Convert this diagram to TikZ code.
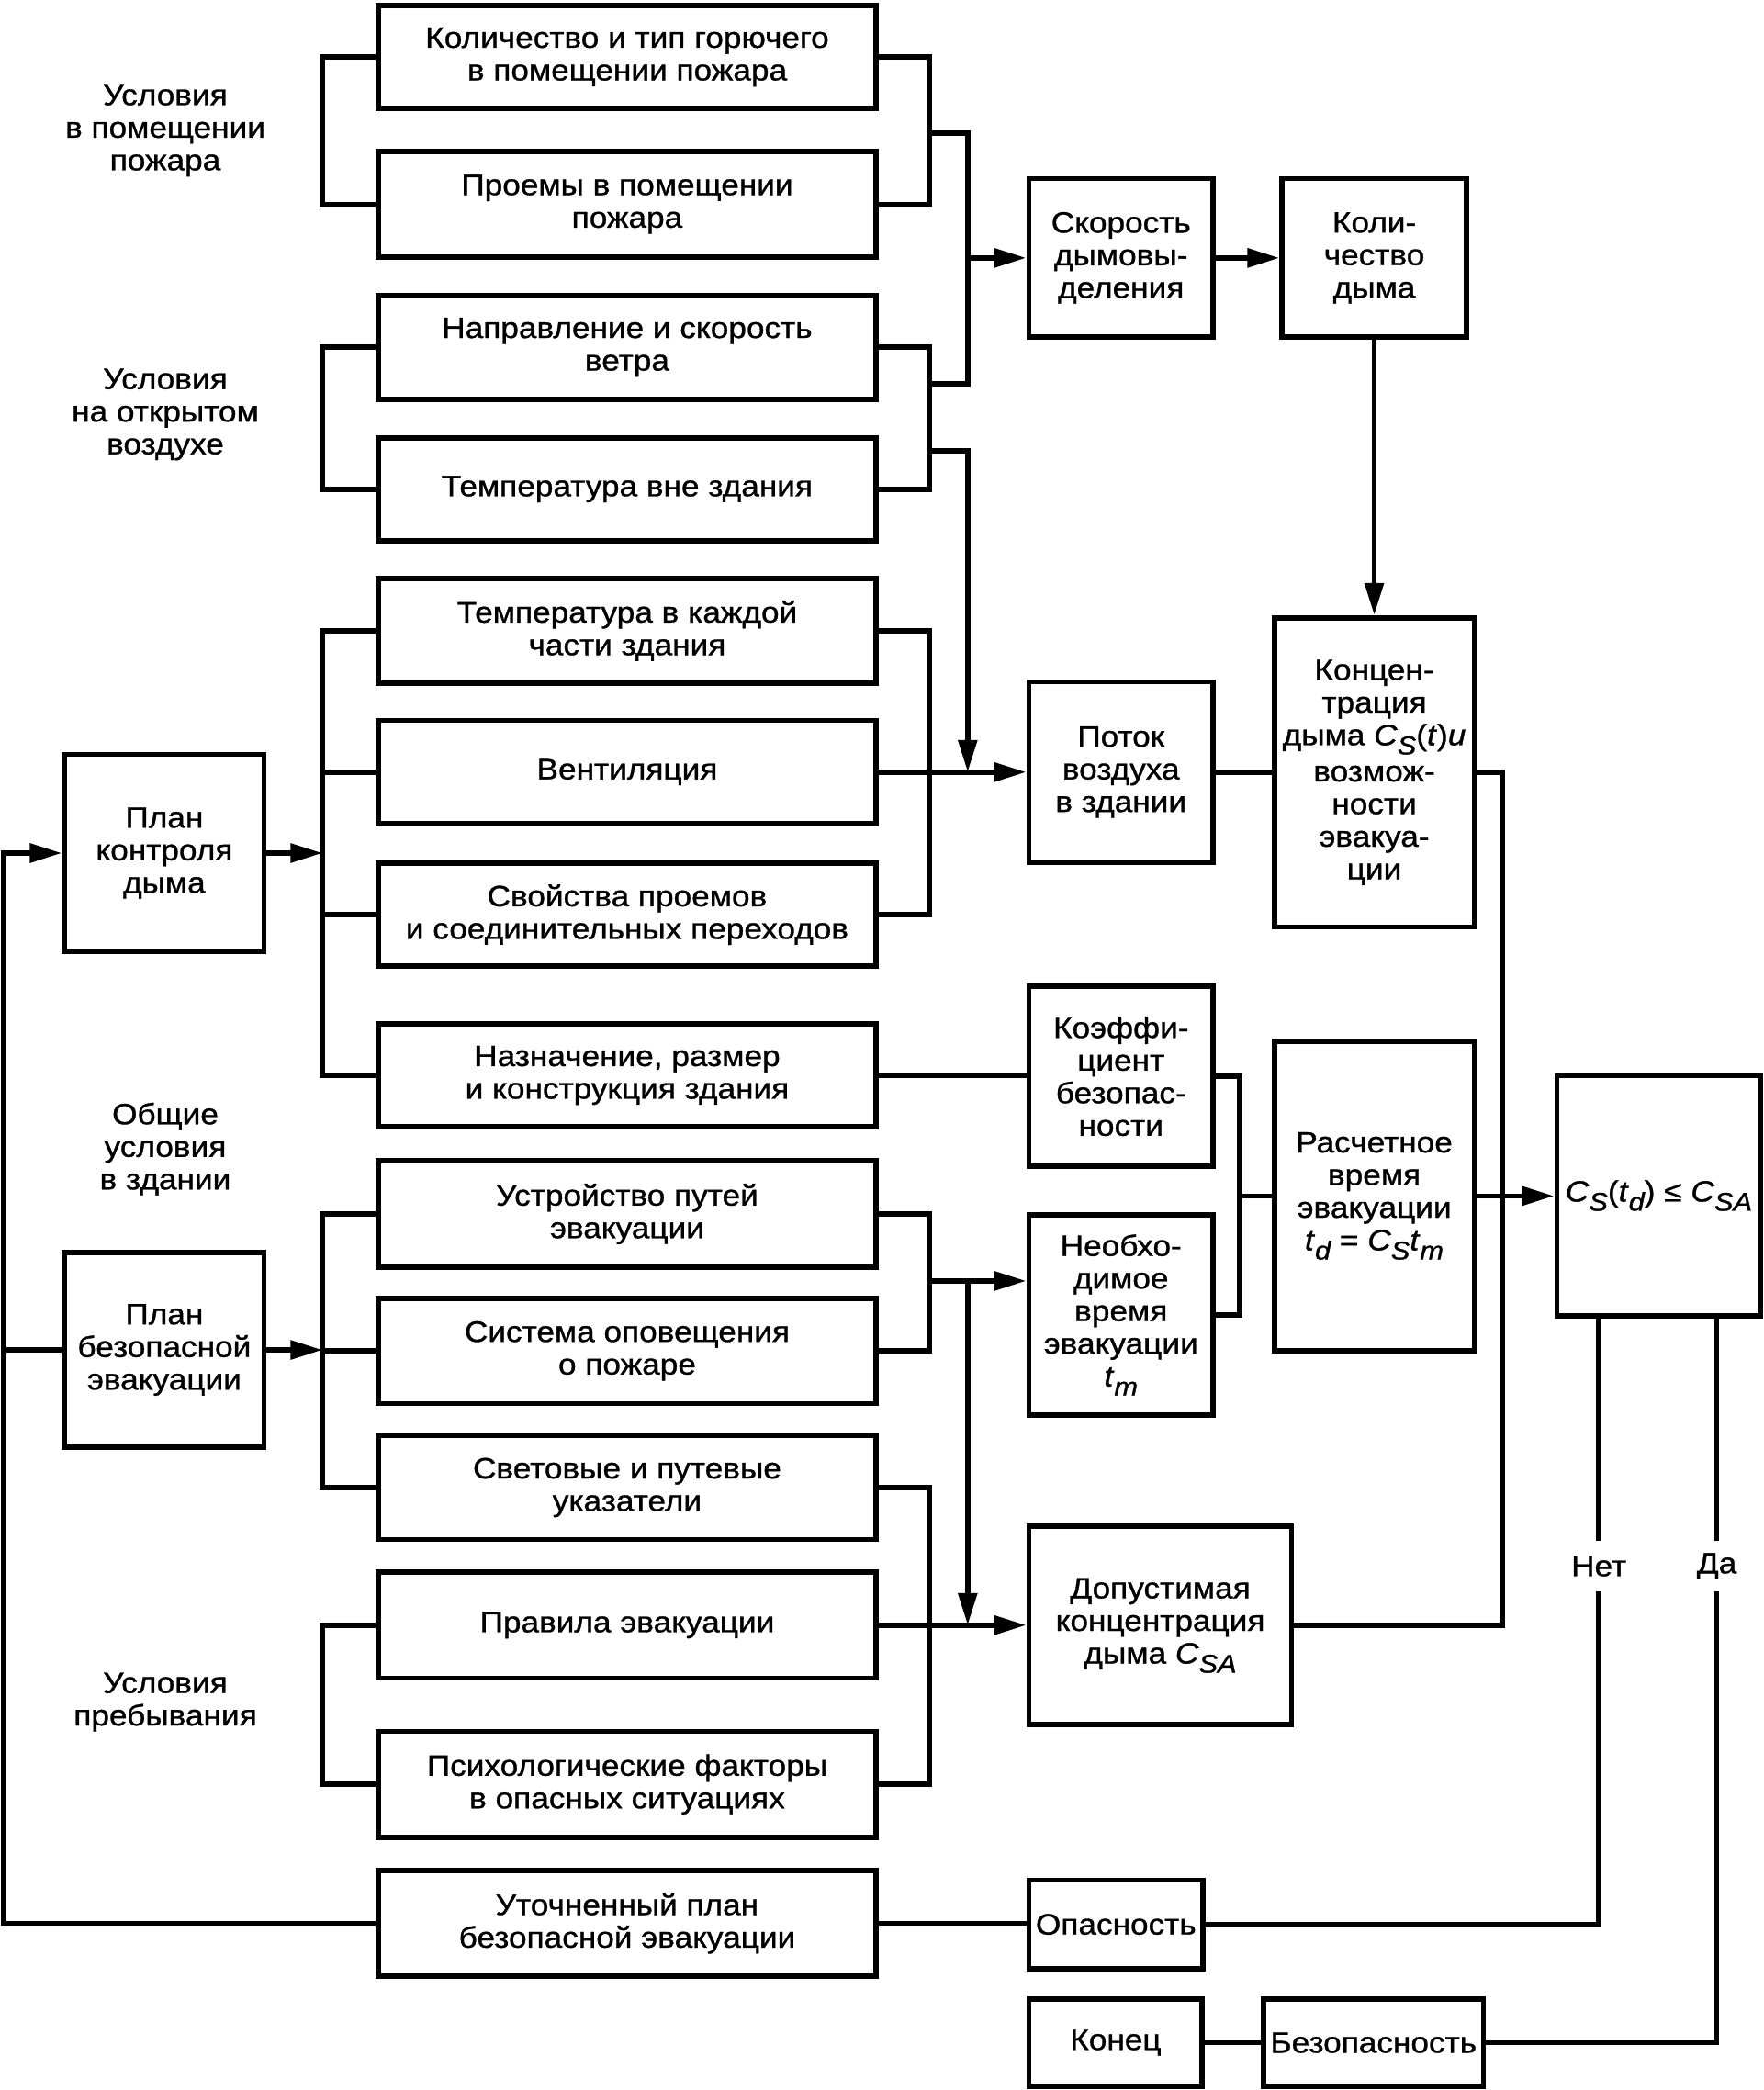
\documentclass[tikz,border=0pt]{standalone}
\usepackage{fontspec}
\setmainfont[FakeStretch=1.1,FakeBold=1]{Liberation Sans}
\usetikzlibrary{arrows.meta}
\newcommand\sbs[1]{\raisebox{-10pt}{\fontsize{28}{28}\selectfont\itshape #1}}
\newcommand\bx[6]{\node[box,minimum width={(#4-#2)*1.45125pt},minimum height={(#5-#3)*1.45125pt}] (#1) at ({(#2+#4)/2},{(#3+#5)/2}) {#6};}
\begin{document}
\begin{tikzpicture}[x=1.45125pt,y=-1.45125pt, line width=5.8pt,
  box/.style={draw, align=center, inner sep=0pt, font=\fontsize{32}{35.5}\selectfont},
  lbl/.style={align=center, inner sep=0pt, font=\fontsize{32}{35.5}\selectfont},
  arr/.style={-{Triangle[length=35pt,width=20pt]}}]
\useasboundingbox (0,0) rectangle (1323,1568);
% middle column
\bx{b1}{284}{4}{657}{81.5}{Количество и тип горючего\\в помещении пожара}
\bx{b2}{284}{113.5}{657}{193}{Проемы в помещении\\пожара}
\bx{b3}{284}{221.5}{657}{299.5}{Направление и скорость\\ветра}
\bx{b4}{284}{328.5}{657}{405.5}{Температура вне здания}
\bx{b5}{284}{434}{657}{512.5}{Температура в каждой\\части здания}
\bx{b6}{284}{540.5}{657}{618}{Вентиляция}
\bx{b7}{284}{647.5}{657}{725}{Свойства проемов\\и соединительных переходов}
\bx{b8}{284}{768}{657}{845.5}{Назначение, размер\\и конструкция здания}
\bx{b9}{284}{871}{657}{950.5}{Устройство путей\\эвакуации}
\bx{b10}{284}{974}{657}{1053}{Система оповещения\\о пожаре}
\bx{b11}{284}{1077}{657}{1155}{Световые и путевые\\указатели}
\bx{b12}{284}{1179.5}{657}{1259}{Правила эвакуации}
\bx{b13}{284}{1299}{657}{1378.5}{Психологические факторы\\в опасных ситуациях}
\bx{b14}{284}{1403.5}{657}{1482.5}{Уточненный план\\безопасной эвакуации}
% left plans
\bx{pk}{48.5}{566}{198}{714}{План\\контроля\\дыма}
\bx{pbe}{48.5}{939.5}{198}{1086}{План\\безопасной\\эвакуации}
% right column
\bx{sk}{772}{134}{910}{253}{Скорость\\дымовы-\\деления}
\bx{kd}{962}{134}{1100}{253}{Коли-\\чество\\дыма}
\bx{pot}{772}{511.5}{910}{647}{Поток\\воздуха\\в здании}
\bx{konc}{956}{463.5}{1106}{695.5}{Концен-\\трация\\дыма \textit{C}\sbs{S}(\textit{t})\textit{u}\\[4pt]возмож-\\ности\\эвакуа-\\ции}
\bx{koef}{772}{740}{910}{875}{Коэффи-\\циент\\безопас-\\ности}
\bx{neo}{772}{911.5}{910}{1061.5}{Необхо-\\димое\\время\\эвакуации\\\textit{t}\sbs{m}}
\bx{ras}{956}{781}{1106}{1013.5}{Расчетное\\время\\эвакуации\\\textit{t}\sbs{d} = \textit{C}\sbs{S}\textit{t}\sbs{m}}
\bx{cs}{1168}{807}{1321}{987}{\textit{C}\sbs{S}(\textit{t}\sbs{d}) ≤ \textit{C}\sbs{SA}}
\bx{dop}{772}{1145}{969}{1294}{Допустимая\\концентрация\\дыма \textit{C}\sbs{SA}}
\bx{op}{772}{1410.5}{902.5}{1477}{Опасность}
\bx{kon}{772}{1500}{902}{1565}{Конец}
\bx{bez}{948}{1500}{1113}{1565}{Безопасность}
% side labels
\node[lbl] (l1) at (124,98) {Условия\\в помещении\\пожара};
\node[lbl] (l2) at (124,311) {Условия\\на открытом\\воздухе};
\node[lbl] (l3) at (124,862) {Общие\\условия\\в здании};
\node[lbl] (l4) at (124,1277) {Условия\\пребывания};
\node[lbl, minimum height={34*1.45125pt}] (net) at (1199.5,1175) {Нет};
\node[lbl, minimum height={34*1.45125pt}] (da) at (1288,1175) {Да};
% reference coordinates
\coordinate (xL) at (242,0);
\coordinate (xR) at (697,0);
\coordinate (xM) at (726,0);
\coordinate (xF) at (2.6,0);
\coordinate (xK) at (930,0);
\coordinate (xC) at (1127,0);
\coordinate (xN) at (1199.5,0);
\coordinate (xD) at (1288,0);
\coordinate (jA) at (697,100);
\coordinate (jB) at (697,288);
\coordinate (jC) at (697,338);
\coordinate (jD) at (697,961);
% group A
\draw (b1.west) -- (b1.west -| xL) -- (b2.west -| xL) -- (b2.west);
\draw (b1.east) -- (b1.east -| xR) -- (b2.east -| xR) -- (b2.east);
\draw (jA) -- (jA -| xM) -- (jB -| xM) -- (jB);
\draw[arr] (sk.west -| xM) -- (sk.west);
% group B
\draw (b3.west) -- (b3.west -| xL) -- (b4.west -| xL) -- (b4.west);
\draw (b3.east) -- (b3.east -| xR) -- (b4.east -| xR) -- (b4.east);
\draw[arr] (jC) -- (jC -| xM) -- (b6.east -| xM);
% group C
\draw (b5.west) -- (b5.west -| xL) -- (b8.west -| xL) -- (b8.west);
\draw (b6.west) -- (b6.west -| xL);
\draw (b7.west) -- (b7.west -| xL);
\draw[arr] (pk.east) -- (pk.east -| xL);
\draw (b5.east) -- (b5.east -| xR) -- (b7.east -| xR) -- (b7.east);
\draw[arr] (b6.east) -- (b6.east -| pot.west);
\draw (pot.east) -- (pot.east -| konc.west);
\draw (konc.east) -- (konc.east -| xC) -- (dop.east -| xC) -- (dop.east);
\draw[arr] (kd.south) -- (konc.north);
\draw[arr] (sk.east) -- (kd.west);
\draw (b8.east) -- (b8.east -| koef.west);
\draw (koef.east) -- (koef.east -| xK) -- (neo.east -| xK) -- (neo.east);
\draw (ras.west -| xK) -- (ras.west);
\draw[arr] (ras.east) -- (ras.east -| cs.west);
% group D
\draw (b9.west) -- (b9.west -| xL) -- (b11.west -| xL) -- (b11.west);
\draw (b10.west) -- (b10.west -| xL);
\draw[arr] (pbe.east) -- (pbe.east -| xL);
\draw (b9.east) -- (b9.east -| xR) -- (b10.east -| xR) -- (b10.east);
\draw[arr] (jD) -- (jD -| neo.west);
\draw[arr] (jD -| xM) -- (b12.east -| xM);
\draw (b11.east) -- (b11.east -| xR) -- (b13.east -| xR) -- (b13.east);
\draw[arr] (b12.east) -- (b12.east -| dop.west);
% group E
\draw (b12.west) -- (b12.west -| xL) -- (b13.west -| xL) -- (b13.west);
% feedback
\draw[arr] (b14.west) -- (b14.west -| xF) -- (pk.west -| xF) -- (pk.west);
\draw (pbe.west -| xF) -- (pbe.west);
\draw (b14.east) -- (b14.east -| op.west);
% decision
\draw (cs.south -| xN) -- (net.north);
\draw (net.south) -- (net.south |- op.east) -- (op.east);
\draw (cs.south -| xD) -- (da.north);
\draw (da.south) -- (da.south |- bez.east) -- (bez.east);
\draw (kon.east) -- (bez.west);
\end{tikzpicture}
\end{document}
